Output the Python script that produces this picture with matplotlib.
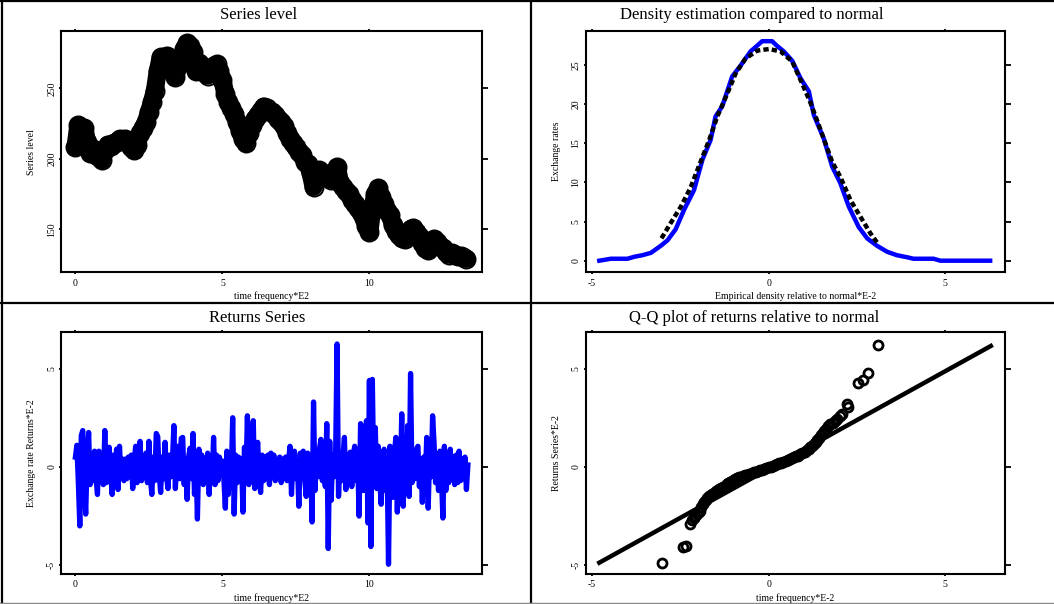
import numpy as np
import matplotlib
matplotlib.use("Agg")
import matplotlib.pyplot as plt
from matplotlib.lines import Line2D

plt.rcParams['font.family'] = ['Liberation Serif', 'DejaVu Serif']
plt.rcParams['axes.unicode_minus'] = False

# exchange rate level, one value every 0.1 on the time*E2 axis
level = [208, 224, 216, 222, 212, 204, 207, 203, 201, 199,
         206, 210, 209, 211, 212, 214, 213, 214, 211, 208,
         206, 210, 218, 222, 226, 233, 240, 248, 262, 272,
         268, 273, 266, 262, 258, 266, 272, 278, 282, 280,
         276, 262, 268, 264, 261, 259, 262, 266, 267, 262,
         256, 246, 240, 236, 232, 226, 220, 214, 211, 218,
         224, 228, 231, 234, 237, 236, 234, 233, 231, 228,
         226, 223, 218, 214, 211, 208, 205, 203, 198, 196,
         190, 180, 185, 192, 190, 189, 187, 185, 190, 194,
         183, 180, 177, 175, 171, 168, 165, 162, 158, 152,
         148, 165, 175, 179, 173, 168, 163, 160, 153, 149,
         146, 144, 143, 146, 150, 151, 148, 145, 140, 137,
         135, 140, 143, 141, 138, 137, 134, 132, 133, 132,
         131, 131, 130, 129]
level_t = np.arange(len(level)) * 0.1

# returns (*E-2), one value every 0.05 on the time*E2 axis
returns = [0.5, 1.1, -0.8, -3.0, 1.6, 1.85, -0.7, -2.4, 0.4, 1.75, -0.9, 0.5, -0.7, 0.8, -0.5, -1.4, 0.8, -0.6, 0.4, -0.9,
           1.85, -0.8, 0.5, 1.0, -0.4, -1.4, 0.6, -0.6, 0.9, -1.15, 1.05, -0.5, 0.4, -0.7, 0.4, -0.6, 0.5, -0.5, 0.6, -1.1,
           0.3, 1.05, -0.8, 0.6, 1.3, -0.7, 0.2, -0.5, 0.7, -0.8, 1.3, -0.6, -1.4, 0.5, -0.7, 1.7, 1.55, -0.4, -1.3, 0.5,
           -0.6, 1.25, -0.5, -1.1, 0.6, -0.5, 0.3, 2.1, -1.1, 0.3, 1.05, -0.6, 1.45, 1.5, -0.9, 0.4, -1.65, 0.5, 0.95, -0.6,
           1.7, -1.4, 0.4, -2.65, 0.9, -0.5, 0.6, -0.9, 0.4, -0.7, 0.7, -1.4, 0.5, -0.8, 1.5, -0.9, 0.6, -0.7, 0.5, -0.4,
           0.3, -0.6, -2.1, 0.8, -1.4, 0.4, -0.5, 2.5, -2.4, 0.6, -0.8, 0.5, -0.6, 0.4, -2.3, 1.0, -0.6, 2.6, -0.9, 0.6,
           -0.5, 2.35, -1.1, 0.4, 1.25, -0.5, -1.3, 0.6, -0.7, 0.5, -0.6, 0.6, -0.9, 0.7, -0.4, 0.6, -0.7, 0.3, -0.5, 0.5,
           -0.8, 0.4, -0.6, 0.5, -0.7, 0.3, 1.05, -1.4, 0.4, 0.8, -0.6, 0.3, -2.0, 0.7, -0.5, 0.8, -0.6, -1.5, 0.7, -0.4,
           0.3, -2.8, 3.3, -1.2, 0.7, -0.5, 0.9, 1.4, -0.7, 0.6, -1.0, 2.2, -4.15, 1.3, -1.7, 0.6, -0.5, 0.5, 6.25, -1.5,
           0.6, -0.7, 0.5, 1.5, -1.15, 0.4, -0.5, 0.75, -1.0, 0.6, 1.05, -0.7, 0.5, -2.5, 2.2, 1.9, -1.2, 0.6, 2.35, -2.85,
           4.4, -4.05, 4.45, -0.8, 2.0, -1.1, 1.05, -0.6, -1.9, 0.5, 0.9, -1.2, 0.4, -4.95, 1.05, -0.6, -1.55, 0.7, 1.5, -2.3,
           0.6, -0.8, 2.7, -2.0, 0.6, -0.9, 2.1, -1.5, 4.75, -0.8, 0.6, -0.6, 0.9, 1.05, -1.0, 0.4, -1.8, 0.5, -0.7, 1.5,
           -2.1, 0.7, -0.5, 2.6, 1.2, -0.8, 0.5, -1.2, 0.8, -0.5, -2.6, 1.05, -1.2, 0.6, -0.8, 0.9, -0.6, 0.5, -0.9, 0.6,
           -0.8, 0.8, -0.7, 0.4, -0.6, 0.5, -1.15, 0.1]
returns_t = np.arange(len(returns)) * 0.05

# kernel density of returns
dens_x = [-4.79, -4.46, -3.99, -3.8, -3.57, -3.33, -3.05, -2.86, -2.63, -2.39, -2.11, -1.87, -1.64, -1.5,
          -1.31, -1.03, -0.79, -0.51, -0.33, -0.18, 0.1, 0.24, 0.43, 0.67, 0.9, 1.14, 1.28, 1.56, 1.8,
          2.03, 2.27, 2.55, 2.79, 3.07, 3.35, 3.63, 3.96, 4.1, 4.67, 4.86, 6.27]
dens_y = [0, 0.25, 0.25, 0.5, 0.7, 1.0, 1.9, 2.6, 4.0, 6.5, 9.0, 12.9, 15.4, 18.4,
          19.7, 23.5, 24.9, 26.7, 27.4, 28.0, 28.0, 27.4, 26.7, 25.5, 23.3, 21.6, 18.6, 15.6, 12.0,
          9.9, 6.9, 4.3, 2.85, 1.9, 1.15, 0.7, 0.4, 0.25, 0.25, 0, 0]
# normal density
norm_x = [-3.03, -2.77, -2.48, -2.2, -1.96, -1.68, -1.45, -1.16, -0.93, -0.65, -0.32, 0.01,
          0.34, 0.67, 0.95, 1.19, 1.47, 1.8, 2.03, 2.32, 2.6, 2.88, 3.09]
norm_y = [2.85, 4.8, 6.9, 9.4, 12.2, 15.4, 18.4, 21.4, 23.9, 25.8, 26.8, 27.0,
          26.7, 25.4, 22.6, 20.1, 16.7, 12.6, 10.7, 7.7, 5.6, 3.5, 2.2]

# Q-Q points: normal quantile vs sample quantile
qq_x = [-3.02, -2.43, -2.33, -2.22, -2.17, -2.12, -2.08, -2.03, -1.98, -1.94, -1.90, -1.86, -1.82,
        -1.78, -1.74, -1.69, -1.64, -1.59, -1.54, -1.49, -1.44, -1.39, -1.34, -1.29, -1.24, -1.19,
        -1.14, -1.09, -1.04, -0.99, -0.94, -0.89, -0.84, -0.78, -0.72, -0.66, -0.60, -0.54, -0.48,
        -0.42, -0.36, -0.30, -0.24, -0.18, -0.12, -0.06, 0.00, 0.06, 0.12, 0.18, 0.24, 0.30, 0.36,
        0.42, 0.48, 0.54, 0.60, 0.66, 0.72, 0.78, 0.84, 0.90, 0.96, 1.02, 1.08, 1.13, 1.18, 1.23,
        1.28, 1.33, 1.38, 1.43, 1.48, 1.53, 1.58, 1.63, 1.69, 1.75, 1.81, 1.88, 1.95, 2.02, 2.07,
        2.21, 2.26, 2.54, 2.66, 2.82, 3.11]
qq_y = [-4.87, -4.07, -4.02, -2.92, -2.71, -2.58, -2.49, -2.40, -2.30, -2.22, -2.05, -1.90, -1.78,
        -1.66, -1.56, -1.50, -1.44, -1.38, -1.31, -1.25, -1.19, -1.13, -1.07, -1.01, -0.95, -0.89,
        -0.84, -0.78, -0.71, -0.66, -0.60, -0.55, -0.52, -0.49, -0.46, -0.42, -0.39, -0.36, -0.32,
        -0.28, -0.25, -0.21, -0.17, -0.14, -0.10, -0.06, -0.02, 0.02, 0.06, 0.10, 0.14, 0.18, 0.22,
        0.26, 0.30, 0.34, 0.38, 0.43, 0.48, 0.53, 0.58, 0.64, 0.71, 0.78, 0.86, 0.93, 1.01, 1.08,
        1.17, 1.27, 1.38, 1.49, 1.60, 1.72, 1.83, 1.94, 2.06, 2.16, 2.24, 2.34, 2.46, 2.59, 2.68,
        3.22, 3.05, 4.29, 4.41, 4.75, 6.21]
qq_line_x = [-4.79, 6.29]
qq_line_y = [-4.87, 6.15]

W, H = 1054, 604
fig = plt.figure(figsize=(W / 100, H / 100), dpi=100)


def px_axes(x0, y0, x1, y1):
    return fig.add_axes([x0 / W, 1 - y1 / H, (x1 - x0) / W, (y1 - y0) / H])


def style(ax, xlim, ylim, xticks, yticks, xlabel, ylabel):
    ax.set_xlim(xlim)
    ax.set_ylim(ylim)
    ax.set_xticks(xticks)
    ax.set_yticks(yticks)
    for s in ax.spines.values():
        s.set_linewidth(1.5)
    ax.tick_params(direction='out', length=1.5, width=1.3, labelsize=7,
                   top=True, right=True)
    ax.tick_params(axis='x', pad=3)
    ax.tick_params(axis='y', labelrotation=90, pad=2)
    for t in ax.yaxis.get_major_ticks():
        t.tick2line.set_markersize(4)
    for lab in ax.get_yticklabels():
        lab.set_va('center')
    ax.set_xlabel(xlabel, fontsize=7, labelpad=3)
    ax.set_ylabel(ylabel, fontsize=7, labelpad=8)


# top left: series level
ax1 = px_axes(61, 31, 482, 272.3)
ax1.plot(level_t, level, color='black', lw=13, solid_joinstyle='round',
         solid_capstyle='round', zorder=2)
ax1.plot(level_t, level, 'o', mfc='none', mec='black', ms=13, mew=1.4, zorder=3)
style(ax1, (-0.49, 13.83), (119.5, 290.6), [0, 5, 10], [150, 200, 250],
      'time frequency*E2', 'Series level')

# top right: density vs normal
ax2 = px_axes(585.5, 31, 1005, 272.3)
ax2.plot(dens_x, dens_y, color='#0000ff', lw=3.2)
ax2.plot(norm_x, norm_y, color='black', lw=3.2, ls=(0, (1.2, 0.7)))
style(ax2, (-5.18, 6.69), (-1.48, 29.3), [-5, 0, 5], [0, 5, 10, 15, 20, 25],
      'Empirical density relative to normal*E-2', 'Exchange rates')

# bottom left: returns
ax3 = px_axes(61, 332, 482, 573.5)
ax3.plot(returns_t, returns, color='#0000ff', lw=3.8)
style(ax3, (-0.49, 13.83), (-5.42, 6.86), [0, 5, 10], [-5, 0, 5],
      'time frequency*E2', 'Exchange rate Returns*E-2')

# bottom right: Q-Q plot
ax4 = px_axes(585.5, 332, 1005, 573.5)
ax4.plot(qq_line_x, qq_line_y, color='black', lw=3.2)
ax4.plot(qq_x, qq_y, 'o', mfc='none', mec='black', ms=6.5, mew=2)
style(ax4, (-5.18, 6.69), (-5.42, 6.86), [-5, 0, 5], [-5, 0, 5],
      'time frequency*E-2', 'Returns Series*E-2')

# panel titles
fig.text(259 / W, 1 - 15 / H, 'Series level', ha='center', va='center', fontsize=12)
fig.text(752 / W, 1 - 15 / H, 'Density estimation compared to normal', ha='center', va='center', fontsize=12)
fig.text(257 / W, 1 - 318 / H, 'Returns Series', ha='center', va='center', fontsize=12)
fig.text(754 / W, 1 - 318 / H, 'Q-Q plot of returns relative to normal', ha='center', va='center', fontsize=12)

# panel frame lines
fig.add_artist(Line2D([531 / W, 531 / W], [0, 1], color='black', lw=1.6))
fig.add_artist(Line2D([0, 1], [1 - 303 / H, 1 - 303 / H], color='black', lw=1.6))
fig.add_artist(Line2D([1.5 / W, 1.5 / W], [0, 1], color='black', lw=1.6))
fig.add_artist(Line2D([0, 1], [1 - 1 / H, 1 - 1 / H], color='black', lw=1.6))
fig.add_artist(Line2D([0, 1], [1 - 603 / H, 1 - 603 / H], color='#888888', lw=1))

fig.savefig('out.png', dpi=100)
